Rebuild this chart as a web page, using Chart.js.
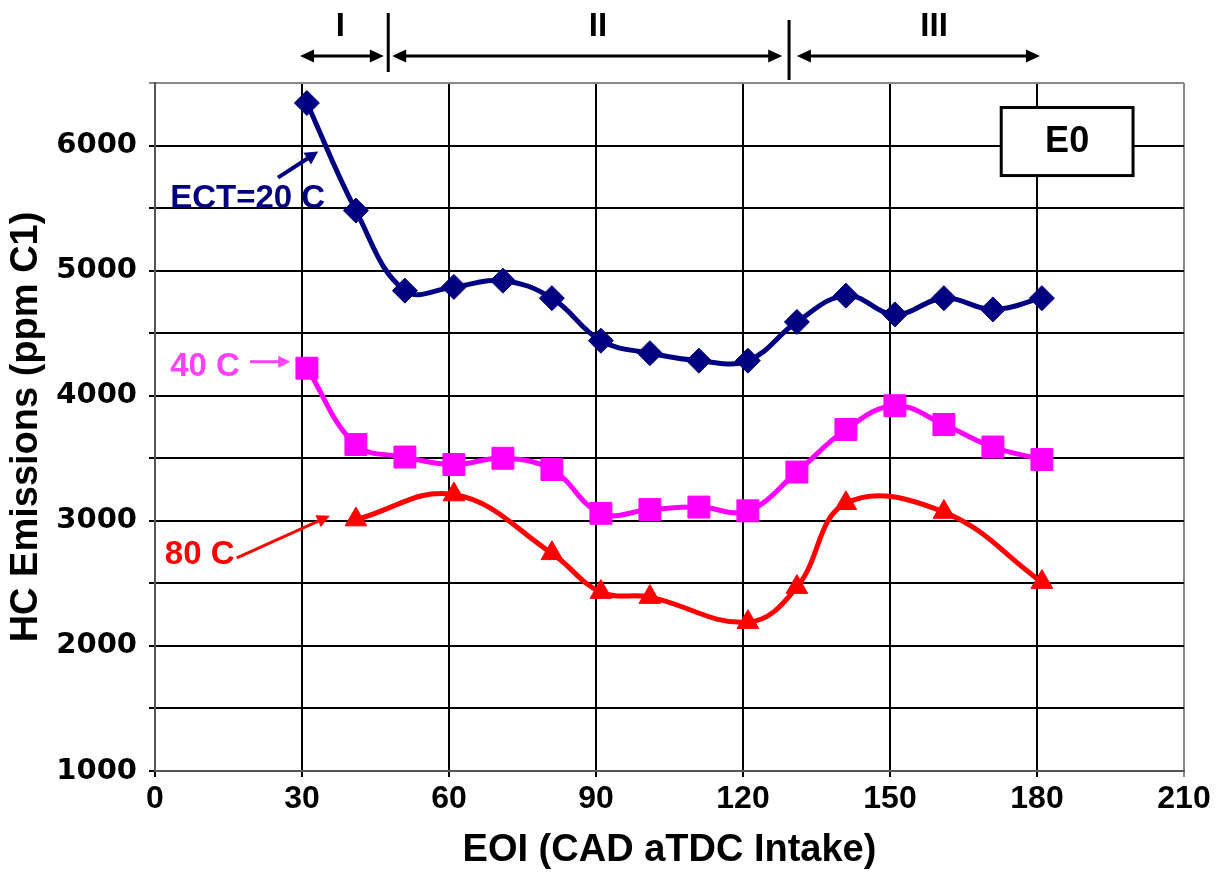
<!DOCTYPE html>
<html>
<head>
<meta charset="utf-8">
<script src="https://cdn.jsdelivr.net/npm/chart.js@4"></script>
<style>
  html, body { margin: 0; padding: 0; background: #fff; }
  #wrap { width: 1217px; height: 873px; position: relative; }
</style>
</head>
<body>
<div id="wrap"><canvas id="hcChart"></canvas></div>
<script>
// EOI positions (CAD aTDC intake)
const eoi = [31, 41, 51, 61, 71, 81, 91, 101, 111, 121, 131, 141, 151, 161, 171, 181];
const ect20 = [6340, 5480, 4840, 4870, 4920, 4780, 4440, 4340, 4280, 4280, 4590, 4800, 4650, 4780, 4690, 4780];
const ect40 = [4220, 3610, 3510, 3450, 3500, 3410, 3060, 3090, 3110, 3080, 3390, 3730, 3920, 3770, 3590, 3490];
const eoi80 = [41, 61, 81, 91, 101, 121, 131, 141, 161, 181];
const ect80 = [3010, 3210, 2740, 2430, 2390, 2190, 2470, 3140, 3070, 2510];
const xTicks = [0, 30, 60, 90, 120, 150, 180, 210];
const yTickLabels = [1000, 2000, 3000, 4000, 5000, 6000];

const toPts = (xs, ys) => xs.map((x, i) => ({ x: x, y: ys[i] }));

function arrow(ctx, x1, y1, x2, y2, color, lw, headLen, headW, both) {
  const a = Math.atan2(y2 - y1, x2 - x1);
  ctx.save();
  ctx.strokeStyle = color;
  ctx.fillStyle = color;
  ctx.lineWidth = lw;
  const sx = both ? x1 + Math.cos(a) * headLen * 0.8 : x1;
  const sy = both ? y1 + Math.sin(a) * headLen * 0.8 : y1;
  ctx.beginPath();
  ctx.moveTo(sx, sy);
  ctx.lineTo(x2 - Math.cos(a) * headLen * 0.8, y2 - Math.sin(a) * headLen * 0.8);
  ctx.stroke();
  const head = (tx, ty, ang) => {
    ctx.beginPath();
    ctx.moveTo(tx, ty);
    ctx.lineTo(tx - Math.cos(ang) * headLen + Math.sin(ang) * headW, ty - Math.sin(ang) * headLen - Math.cos(ang) * headW);
    ctx.lineTo(tx - Math.cos(ang) * headLen - Math.sin(ang) * headW, ty - Math.sin(ang) * headLen + Math.cos(ang) * headW);
    ctx.closePath();
    ctx.fill();
  };
  head(x2, y2, a);
  if (both) head(x1, y1, a + Math.PI);
  ctx.restore();
}

// region markers, E0 box and series callouts
const notes = {
  id: 'notes',
  afterDraw(chart) {
    const ctx = chart.ctx;
    const xs = chart.scales.x, ys = chart.scales.y;
    const X = v => xs.getPixelForValue(v);
    const Y = v => ys.getPixelForValue(v);
    const top = chart.chartArea.top;

    // regions I, II, III
    const ay = top - 27;
    arrow(ctx, X(29.6), ay, X(46.7), ay, '#000', 3, 14, 6.5, true);
    arrow(ctx, X(48.4), ay, X(128), ay, '#000', 3, 14, 6.5, true);
    arrow(ctx, X(131), ay, X(180.6), ay, '#000', 3, 14, 6.5, true);
    ctx.save();
    ctx.strokeStyle = '#000';
    ctx.lineWidth = 3;
    ctx.beginPath();
    ctx.moveTo(X(47.6), top - 70); ctx.lineTo(X(47.6), top - 11);
    ctx.moveTo(X(129.4), top - 63); ctx.lineTo(X(129.4), top - 3);
    ctx.stroke();
    ctx.fillStyle = '#000';
    ctx.font = 'bold 33px "Liberation Sans", Arial, sans-serif';
    ctx.textAlign = 'center';
    ctx.textBaseline = 'middle';
    ctx.fillText('I', X(37.8), top - 56);
    ctx.fillText('II', X(90.4), top - 56);
    ctx.fillText('III', X(159), top - 56);

    // E0 box
    const bx1 = X(172.7), bx2 = X(199.6), by1 = Y(6304), by2 = Y(5760);
    ctx.fillStyle = '#fff';
    ctx.fillRect(bx1, by1, bx2 - bx1, by2 - by1);
    ctx.lineWidth = 3;
    ctx.strokeRect(bx1, by1, bx2 - bx1, by2 - by1);
    ctx.fillStyle = '#000';
    ctx.font = 'bold 36px "Liberation Sans", Arial, sans-serif';
    ctx.fillText('E0', (bx1 + bx2) / 2, (by1 + by2) / 2 + 1);

    // callouts
    ctx.textAlign = 'left';
    ctx.font = 'bold 33px "Liberation Sans", Arial, sans-serif';
    ctx.fillStyle = '#000080';
    ctx.fillText('ECT=20 C', X(3.1), Y(5576));
    ctx.fillStyle = '#FF40FF';
    ctx.fillText('40 C', X(3.1), Y(4232));
    ctx.fillStyle = '#FF0000';
    ctx.fillText('80 C', X(2.0), Y(2728));
    ctx.restore();
    arrow(ctx, X(25.1), Y(5744), X(33.3), Y(5952), '#000080', 4, 13, 7, false);
    arrow(ctx, X(19.4), Y(4272), X(27.6), Y(4272), '#FF40FF', 3, 12, 6, false);
    arrow(ctx, X(16.7), Y(2704), X(35.7), Y(3040), '#FF0000', 3, 13, 6.5, false);
  }
};

const lineSet = (label, data, color, style, radius) => ({
  label: label,
  data: data,
  borderColor: color,
  backgroundColor: color,
  borderWidth: 5,
  pointStyle: style,
  pointRadius: radius,
  pointHoverRadius: radius,
  pointBorderWidth: 1,
  tension: 0.4,
  fill: false
});

new Chart(document.getElementById('hcChart'), {
  type: 'line',
  data: {
    datasets: [
      lineSet('ECT=20 C', toPts(eoi, ect20), '#000080', 'rectRot', 12.5),
      lineSet('40 C', toPts(eoi, ect40), '#FF00FF', 'rect', 15.5),
      lineSet('80 C', toPts(eoi80, ect80), '#FF0000', 'triangle', 12.5)
    ]
  },
  options: {
    responsive: true,
    maintainAspectRatio: false,
    animation: false,
    layout: { padding: { top: 83, right: 33, left: 0, bottom: 0 } },
    plugins: {
      legend: { display: false },
      tooltip: { enabled: false }
    },
    scales: {
      x: {
        type: 'linear',
        min: 0,
        max: 210,
        afterBuildTicks: s => { s.ticks = xTicks.map(v => ({ value: v })); },
        afterFit: s => { s.height = 102; },
        grid: {
          color: c => (c.tick && c.tick.value === 210 ? '#888' : '#000'),
          lineWidth: 2,
          tickLength: 6
        },
        border: { color: '#555', width: 2 },
        ticks: {
          color: '#000',
          padding: 3,
          maxRotation: 0,
          font: { family: '"Liberation Sans", Arial', weight: 'bold', size: 32 }
        },
        title: {
          display: true,
          text: 'EOI (CAD aTDC Intake)',
          color: '#000',
          padding: { top: 0, bottom: 0 },
          font: { family: '"Liberation Sans", Arial', weight: 'bold', size: 38 }
        }
      },
      y: {
        min: 1000,
        max: 6500,
        afterFit: s => { s.width = 155; },
        grid: {
          color: c => (c.tick && c.tick.value === 6500 ? '#888' : '#000'),
          lineWidth: 2,
          tickLength: 6
        },
        border: { color: '#555', width: 2 },
        ticks: {
          stepSize: 500,
          color: '#000',
          padding: 12,
          callback: v => (yTickLabels.includes(v) ? String(v) : ''),
          font: { family: '"DejaVu Sans", Arial', weight: 'bold', size: 29 }
        },
        title: {
          display: true,
          text: 'HC Emissions (ppm C1)',
          color: '#000',
          padding: { top: 4, bottom: 0 },
          font: { family: '"Liberation Sans", Arial', weight: 'bold', size: 38 }
        }
      }
    }
  },
  plugins: [notes]
});
</script>
</body>
</html>
